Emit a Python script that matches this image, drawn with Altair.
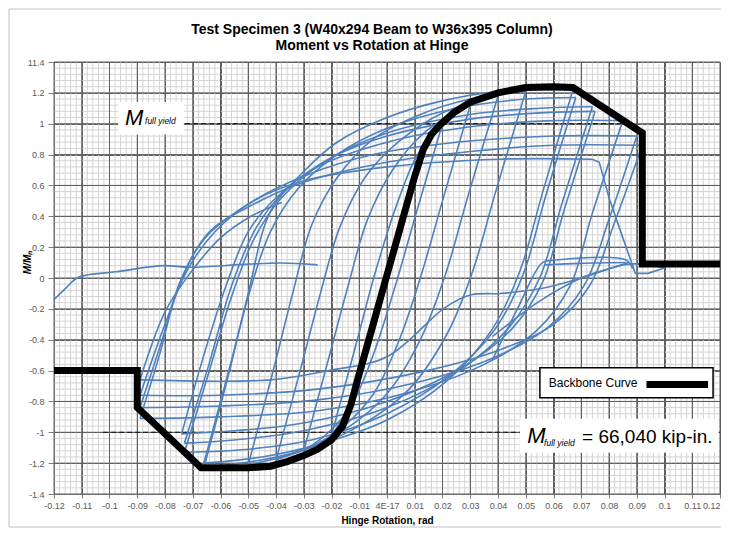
import altair as alt
import pandas as pd

# ---------------- data ----------------
TITLE_LINES = ["Test Specimen 3 (W40x294 Beam to W36x395 Column)", "Moment vs Rotation at Hinge"]
X_TICKS = [round(i * 0.01, 2) for i in range(-12, 13)]
Y_TICKS = [round(i * 0.2, 1) for i in range(-7, 8)]
X_MINOR = [round(i * 0.002, 3) for i in range(-60, 61) if i % 5 != 0]
Y_MINOR = [round(i * 0.04, 2) for i in range(-35, 36) if i % 5 != 0]

BACKBONE_X = [-0.12, -0.09, -0.09, -0.067, -0.05, -0.042, -0.036, -0.03, -0.025, -0.02, -0.016,
              -0.013, -0.01, -0.005, 0.0, 0.005, 0.01, 0.013, 0.016, 0.019, 0.024, 0.03, 0.04,
              0.05, 0.06, 0.067, 0.092, 0.092, 0.12]
BACKBONE_Y = [-0.6, -0.6, -0.84, -1.23, -1.23, -1.22, -1.19, -1.15, -1.11, -1.05, -0.96,
              -0.82, -0.62, -0.3, 0.02, 0.34, 0.66, 0.83, 0.93, 0.99, 1.07, 1.14, 1.2,
              1.235, 1.24, 1.235, 0.94, 0.09, 0.09]

U1 = [(-0.012, -0.80), (-0.004, -0.30), (0.004, 0.25), (0.009, 0.55), (0.012, 0.75)]
L1 = [(0.012, 0.75), (0.004, 0.25), (-0.004, -0.25), (-0.010, -0.62), (-0.015, -0.87), (-0.020, -1.02)]
U2 = [(-0.020, -1.02), (-0.011, -0.42), (-0.004, 0.05), (0.004, 0.50), (0.011, 0.80), (0.020, 1.00)]
L2 = [(0.020, 1.00), (0.011, 0.45), (0.003, -0.05), (-0.005, -0.50), (-0.013, -0.83), (-0.021, -1.00), (-0.030, -1.12)]
U3 = [(-0.030, -1.12), (-0.021, -0.52), (-0.014, -0.05), (-0.007, 0.38), (0.002, 0.70), (0.014, 0.95), (0.030, 1.12)]
L3 = [(0.030, 1.12), (0.020, 0.50), (0.012, 0.0), (0.004, -0.42), (-0.006, -0.78), (-0.020, -1.02), (-0.040, -1.18)]
U4 = [(-0.040, -1.18), (-0.031, -0.58), (-0.024, -0.10), (-0.017, 0.33), (-0.008, 0.65), (0.004, 0.88), (0.020, 1.07), (0.040, 1.18)]
L4 = [(0.040, 1.18), (0.029, 0.52), (0.021, 0.02), (0.012, -0.40), (0.0, -0.75), (-0.015, -0.98), (-0.032, -1.13), (-0.050, -1.21)]
U5 = [(-0.050, -1.21), (-0.041, -0.60), (-0.034, -0.10), (-0.027, 0.35), (-0.018, 0.65), (-0.005, 0.90), (0.012, 1.06), (0.030, 1.16), (0.050, 1.21)]
L5 = [(0.050, 1.21), (0.039, 0.55), (0.031, 0.05), (0.022, -0.35), (0.008, -0.72), (-0.010, -0.96), (-0.035, -1.14), (-0.066, -1.23)]
U6 = [(-0.066, -1.23), (-0.057, -0.62), (-0.050, -0.10), (-0.042, 0.43), (-0.030, 0.69), (-0.018, 0.88), (0.0, 1.04), (0.018, 1.14), (0.041, 1.21), (0.067, 1.22)]
L6 = [(0.067, 1.22), (0.056, 0.55), (0.048, 0.05), (0.038, -0.33), (0.022, -0.66), (0.0, -0.92), (-0.025, -1.08), (-0.045, -1.16), (-0.066, -1.20)]
U7 = [(-0.066, -1.20), (-0.057, -0.60), (-0.050, -0.12), (-0.042, 0.30), (-0.032, 0.58), (-0.018, 0.80), (0.0, 0.97), (0.025, 1.10), (0.050, 1.16), (0.068, 1.17)]
L7 = [(0.068, 1.17), (0.057, 0.52), (0.049, 0.02), (0.039, -0.33), (0.022, -0.64), (0.0, -0.88), (-0.025, -1.04), (-0.050, -1.11), (-0.073, -1.13)]
U8 = [(-0.073, -1.13), (-0.064, -0.60), (-0.056, -0.12), (-0.048, 0.25), (-0.038, 0.52), (-0.022, 0.76), (0.0, 0.94), (0.030, 1.06), (0.055, 1.10), (0.074, 1.11)]
L8 = [(0.074, 1.11), (0.063, 0.48), (0.055, 0.0), (0.044, -0.32), (0.026, -0.60), (0.0, -0.84), (-0.030, -0.99), (-0.055, -1.05), (-0.073, -1.07)]
U9 = [(-0.073, -1.07), (-0.064, -0.55), (-0.056, -0.05), (-0.047, 0.33), (-0.036, 0.58), (-0.020, 0.78), (0.0, 0.92), (0.030, 1.03), (0.055, 1.07), (0.075, 1.08)]
L9 = [(0.075, 1.08), (0.064, 0.45), (0.056, -0.03), (0.045, -0.33), (0.027, -0.58), (0.0, -0.80), (-0.030, -0.94), (-0.055, -0.99), (-0.074, -1.01)]
U10 = [(-0.074, -1.01), (-0.066, -0.50), (-0.058, -0.05), (-0.050, 0.30), (-0.040, 0.52), (-0.025, 0.72), (0.0, 0.88), (0.030, 0.98), (0.060, 1.02), (0.085, 1.02)]
L10 = [(0.085, 1.02), (0.074, 0.42), (0.066, -0.05), (0.054, -0.34), (0.035, -0.56), (0.008, -0.74), (-0.025, -0.86), (-0.060, -0.90), (-0.089, -0.91)]
U11 = [(-0.089, -0.91), (-0.082, -0.50), (-0.075, -0.05), (-0.066, 0.25), (-0.050, 0.48), (-0.030, 0.66), (-0.005, 0.80), (0.025, 0.88), (0.060, 0.92), (0.090, 0.92)]
L11 = [(0.090, 0.92), (0.080, 0.38), (0.071, -0.05), (0.058, -0.32), (0.038, -0.52), (0.010, -0.68), (-0.025, -0.79), (-0.060, -0.83), (-0.089, -0.84)]
U12 = [(-0.089, -0.84), (-0.081, -0.40), (-0.074, 0.0), (-0.064, 0.30), (-0.050, 0.46), (-0.030, 0.62), (0.0, 0.75), (0.030, 0.82), (0.060, 0.86), (0.092, 0.86)]
L12 = [(0.092, 0.86), (0.082, 0.36), (0.073, -0.05), (0.060, -0.30), (0.040, -0.47), (0.012, -0.61), (-0.025, -0.72), (-0.060, -0.76), (-0.089, -0.76)]
U13 = [(-0.089, -0.76), (-0.080, -0.30), (-0.072, 0.05), (-0.062, 0.30), (-0.048, 0.50), (-0.030, 0.63), (0.0, 0.72), (0.040, 0.77), (0.074, 0.77)]
RETURN = [(0.100, 0.065), (0.092, 0.09), (0.085, 0.085), (0.070, 0.0), (0.055, -0.07), (0.041, -0.10), (0.030, -0.11),
          (0.021, -0.19), (0.0, -0.51), (-0.021, -0.60), (-0.042, -0.66), (-0.089, -0.66)]
RELOAD = [(-0.089, -0.66), (-0.080, -0.22), (-0.071, 0.03), (-0.060, 0.26), (-0.049, 0.40), (-0.038, 0.49)]
LOW_RIGHT1 = [(0.038, -0.53), (0.047, -0.20), (0.056, 0.10), (0.060, 0.115), (0.086, 0.118), (0.0885, 0.06)]
LOW_RIGHT2 = [(0.038, -0.38), (0.055, -0.15), (0.070, 0.0), (0.080, 0.06), (0.087, 0.10)]
LOW_RIGHT3 = [(0.057, 0.085), (0.070, 0.095), (0.086, 0.10)]
LOW_LEFT = [(-0.120, -0.14), (-0.116, -0.07), (-0.111, 0.006), (-0.0975, 0.04), (-0.081, 0.08), (-0.071, 0.07),
            (-0.050, 0.09), (-0.038, 0.097), (-0.025, 0.085)]
FRACTURE = [(0.074, 0.77), (0.0765, 0.75), (0.080, 0.52), (0.085, 0.26), (0.0895, 0.03), (0.094, 0.03), (0.100, 0.065)]

SMOOTH = [("U1", U1), ("L1", L1), ("U2", U2), ("L2", L2), ("U3", U3), ("L3", L3), ("U4", U4), ("L4", L4),
          ("U5", U5), ("L5", L5), ("U6", U6), ("L6", L6), ("U7", U7), ("L7", L7), ("U8", U8), ("L8", L8),
          ("U9", U9), ("L9", L9), ("U10", U10), ("L10", L10), ("U11", U11), ("L11", L11), ("U12", U12),
          ("L12", L12), ("U13", U13), ("RETURN", RETURN), ("RELOAD", RELOAD), ("LR1", LOW_RIGHT1),
          ("LR2", LOW_RIGHT2), ("LR3", LOW_RIGHT3), ("LL", LOW_LEFT)]
SHARP = [("FR", FRACTURE)]

M_FULL_YIELD = 1.0
ANNOT_VALUE = "=  66,040 kip-in."

# ---------------- helpers ----------------
def curves_df(curves):
    rows = []
    for name, pts in curves:
        for i, (x, y) in enumerate(pts):
            rows.append({"curve": name, "ord": i, "x": x, "y": y})
    return pd.DataFrame(rows)

FONT = "Liberation Sans, Arial, sans-serif"
XS = alt.Scale(domain=[-0.12, 0.12], nice=False, zero=False)
YS = alt.Scale(domain=[-1.4, 1.4], nice=False, zero=False)

XAX = alt.Axis(values=X_TICKS,
               labelExpr="abs(datum.value) < 1e-9 ? '4E-17' : toString(round(datum.value*100)/100)",
               labelAlign={"condition": {"test": "datum.value > 0.115", "value": "right"}, "value": "center"},
               grid=True, gridColor="#5f5f5f", gridWidth=1, domain=True, domainColor="#808080",
               ticks=True, tickSize=4, tickColor="#808080", labelFont=FONT, labelFontSize=9,
               labelColor="#595959", labelPadding=3, labelFlush=False, labelOverlap=False, labelAngle=0,
               title="Hinge Rotation, rad", titleFont=FONT, titleFontSize=10, titleFontWeight="bold",
               titleColor="black", titlePadding=5)
YAX = alt.Axis(values=Y_TICKS,
               labelExpr="datum.value > 1.39 ? '11.4' : toString(round(datum.value*10)/10)",
               grid=True, gridColor="#5f5f5f", gridWidth=1, domain=True, domainColor="#808080",
               ticks=True, tickSize=6, tickColor="#808080", labelFont=FONT, labelFontSize=9,
               labelColor="#595959", labelPadding=4, labelFlush=False, labelOverlap=False,
               title="M/Mₙ", titleFont=FONT, titleFontSize=10, titleFontWeight="bold",
               titleFontStyle="italic", titleColor="black", titleX=-22, titleY=200)


def X(f="x"):
    return alt.X(f, type="quantitative", scale=XS, axis=XAX)


def Y(f="y"):
    return alt.Y(f, type="quantitative", scale=YS, axis=YAX)


ONE = pd.DataFrame({"a": [0]})

# ---------------- layers ----------------
frame = alt.Chart(ONE).mark_rect(filled=False, stroke="#c0c0c0", strokeWidth=1).encode(
    x=alt.value(-45), x2=alt.value(700), y=alt.value(-53), y2=alt.value(465))

title1 = alt.Chart(ONE).mark_text(text=TITLE_LINES[0], font=FONT, fontSize=14, fontWeight="bold",
                                  color="black", align="center", baseline="middle").encode(
    x=alt.value(318), y=alt.value(-32))
title2 = alt.Chart(ONE).mark_text(text=TITLE_LINES[1], font=FONT, fontSize=14, fontWeight="bold",
                                  color="black", align="center", baseline="middle").encode(
    x=alt.value(318), y=alt.value(-16))

minor_x = alt.Chart(pd.DataFrame({"x": X_MINOR})).mark_rule(color="#d4d4d4", strokeWidth=1).encode(x=X())
minor_y = alt.Chart(pd.DataFrame({"y": Y_MINOR})).mark_rule(color="#d4d4d4", strokeWidth=1).encode(y=Y())

# re-draw majors on top of minors
major_x = alt.Chart(pd.DataFrame({"x": X_TICKS})).mark_rule(color="#5f5f5f", strokeWidth=1).encode(x=X())
major_y = alt.Chart(pd.DataFrame({"y": Y_TICKS})).mark_rule(color="#5f5f5f", strokeWidth=1).encode(y=Y())

dash_df = pd.DataFrame({"x": [-0.0728, -0.1023], "x2": [0.085, 0.12], "y": [M_FULL_YIELD, -M_FULL_YIELD]})
dashes = alt.Chart(dash_df).mark_rule(color="#222222", strokeWidth=1.3, strokeDash=[5, 3]).encode(
    x=X(), x2="x2", y=Y())

blue = "#4f81bd"
smooth = alt.Chart(curves_df(SMOOTH)).mark_line(color=blue, strokeWidth=1.6, interpolate="catmull-rom").encode(
    x=X(), y=Y(), detail="curve:N", order="ord:Q")
sharp = alt.Chart(curves_df(SHARP)).mark_line(color=blue, strokeWidth=1.6).encode(
    x=X(), y=Y(), detail="curve:N", order="ord:Q")

bb_df = pd.DataFrame({"x": BACKBONE_X, "y": BACKBONE_Y, "ord": list(range(len(BACKBONE_X)))})
backbone = alt.Chart(bb_df).mark_line(color="black", strokeWidth=7, strokeJoin="miter").encode(
    x=X(), y=Y(), order="ord:Q")

# white label boxes
box_df = pd.DataFrame({"x": [-0.0969, 0.0479], "x2": [-0.0732, 0.1195], "y": [1.14, -0.912], "y2": [0.93, -1.133]})
boxes = alt.Chart(box_df).mark_rect(color="white").encode(x=X(), x2="x2", y=Y(), y2="y2")

legend_box_df = pd.DataFrame({"x": [0.0551], "x2": [0.1175], "y": [-0.581], "y2": [-0.776]})
legend_box = alt.Chart(legend_box_df).mark_rect(fill="white", stroke="black", strokeWidth=1.5).encode(
    x=X(), x2="x2", y=Y(), y2="y2")
legend_line_df = pd.DataFrame({"x": [0.0935], "x2": [0.1157], "y": [-0.69]})
legend_line = alt.Chart(legend_line_df).mark_rule(color="black", strokeWidth=7).encode(x=X(), x2="x2", y=Y())
legend_text = alt.Chart(pd.DataFrame({"x": [0.0583], "y": [-0.679], "t": ["Backbone Curve"]})).mark_text(
    align="left", baseline="middle", font=FONT, fontSize=12, color="black").encode(x=X(), y=Y(), text="t:N")

big_m = alt.Chart(pd.DataFrame({"x": [-0.0944, 0.0505], "y": [0.99, -1.068], "t": ["M", "M"]})).mark_text(
    align="left", baseline="alphabetic", font=FONT, fontSize=22, fontStyle="italic", color="black").encode(
    x=X(), y=Y(), text="t:N")
sub = alt.Chart(pd.DataFrame({"x": [-0.0872, 0.0566], "y": [0.995, -1.09], "t": ["full yield", "full yield"]})).mark_text(
    align="left", baseline="alphabetic", font=FONT, fontSize=8.5, fontStyle="italic", color="black").encode(
    x=X(), y=Y(), text="t:N")
value_txt = alt.Chart(pd.DataFrame({"x": [0.0703], "y": [-1.068], "t": [ANNOT_VALUE]})).mark_text(
    align="left", baseline="alphabetic", font=FONT, fontSize=19, color="black").encode(x=X(), y=Y(), text="t:N")

chart = alt.layer(
    frame, title1, title2, minor_x, minor_y, major_x, major_y, dashes, smooth, sharp, backbone,
    boxes, legend_box, legend_line, legend_text, big_m, sub, value_txt
).properties(
    width=666, height=432,
    autosize=alt.AutoSizeParams(type="none"),
    padding={"left": 46, "top": 54, "right": 1, "bottom": 34},
).configure_view(stroke="#808080", strokeWidth=1)

chart.save("out.html", embed_options={"renderer": "svg", "actions": False})
